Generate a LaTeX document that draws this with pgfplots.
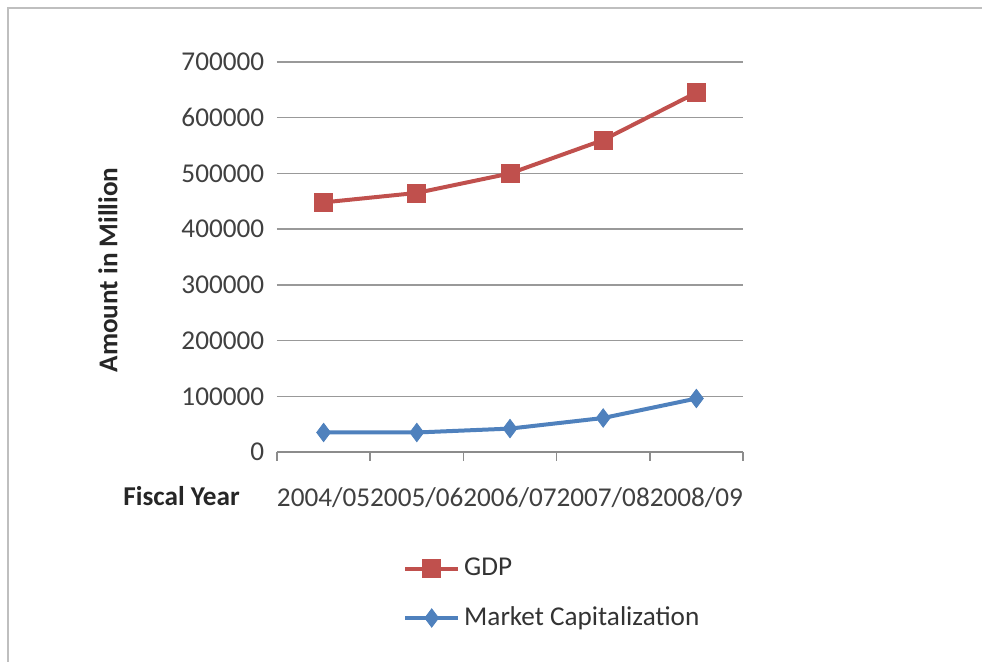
\documentclass[border=0pt]{standalone}
\usepackage{fontspec}
\setmainfont{Carlito}
\usepackage{pgfplots}
\pgfplotsset{compat=1.18}
\definecolor{gdpred}{HTML}{C0504D}
\definecolor{mcblue}{HTML}{4F81BD}
\begin{document}
\fontsize{13.6}{16}\selectfont
\begin{tikzpicture}
\useasboundingbox (-138.5pt,-105pt) rectangle (352.5pt,226pt);
\draw[black!25, line width=1pt] (-134.5pt,-105pt) -- (-134.5pt,222pt) -- (352.5pt,222pt);
\begin{axis}[
  at={(0pt,0pt)}, anchor=south west,
  scale only axis, width=233pt, height=195pt,
  /pgf/number format/assume math mode=true,
  xmin=0.5, xmax=5.5, ymin=0, ymax=700000,
  xtick={1,2,3,4,5},
  xticklabels={2004/05,2005/06,2006/07,2007/08,2008/09},
  minor xtick={0.5,1.5,2.5,3.5,4.5,5.5},
  ytick={0,100000,200000,300000,400000,500000,600000,700000},
  scaled y ticks=false,
  yticklabel style={/pgf/number format/fixed, /pgf/number format/1000 sep={}, black!75, font=\fontsize{13.6}{16}\selectfont, xshift=2.6pt},
  xticklabel style={black!75, font=\fontsize{13.6}{16}\selectfont, anchor=center, yshift=-18.5pt},
  axis x line*=bottom, axis y line*=left,
  x axis line style={-, black!45, line width=0.75pt},
  y axis line style={draw=none},
  major x tick style={draw=none},
  minor x tick style={black!45, line width=0.75pt},
  major y tick style={draw=none},
  tick align=outside,
  minor tick length=4.5pt,
  ymajorgrids,
  grid style={black!40, line width=0.75pt},
  clip=false,
  legend style={draw=none, fill=none, at={(axis description cs:0.27,-0.26)}, anchor=north west, inner sep=0pt, row sep=9.5pt, font=\fontsize{13.6}{16}\selectfont, text=black!80, cells={anchor=west}},
  legend image code/.code={\draw[mark repeat=2, mark phase=2, #1] plot coordinates {(0pt,0pt) (13.25pt,0pt) (26.5pt,0pt)};},
]
\addplot[gdpred, line width=2pt, mark=square*, mark size=4.5pt, mark options={fill=gdpred, draw=gdpred, line width=0.4pt}]
  coordinates {(1,448000) (2,465000) (3,500000) (4,560000) (5,645000)};
\addlegendentry{GDP}
\addplot[mcblue, line width=2pt, mark=diamond*, mark size=4.6pt, mark options={fill=mcblue, draw=mcblue, line width=0.4pt}]
  coordinates {(1,35000) (2,35000) (3,42000) (4,61000) (5,96000)};
\addlegendentry{Market Capitalization}
\end{axis}
\node[rotate=90, font=\fontsize{13.6}{16}\selectfont\bfseries, text=black!85] at (-84.5pt,91pt) {Amount in Million};
\node[font=\fontsize{13.6}{16}\selectfont\bfseries, text=black!85] at (-47.75pt,-22pt) {Fiscal Year};
\end{tikzpicture}
\end{document}
